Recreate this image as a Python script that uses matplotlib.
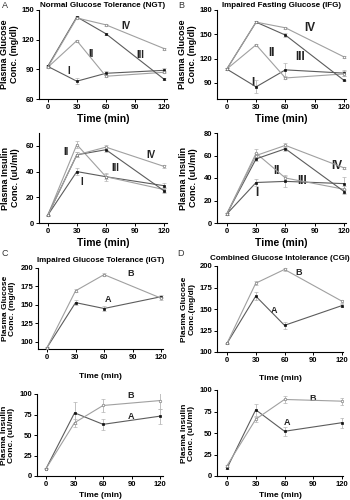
import matplotlib
matplotlib.use('Agg')
import matplotlib.pyplot as plt

plt.rcParams['font.family'] = ['Liberation Sans', 'DejaVu Sans']

# tiempos de muestreo (min)
t = [0, 30, 60, 120]

# Panel A - NGT glucosa
ngt_glu_I = [93, 78, 86, 89]
ngt_glu_I_err = [1, 3, 2, 2]
ngt_glu_II = [92, 119, 83, 87]
ngt_glu_II_err = [1, 1, 1, 1]
ngt_glu_III = [93, 143, 126, 80]
ngt_glu_III_err = [1, 1, 1, 1]
ngt_glu_IV = [92, 142, 135, 111]
ngt_glu_IV_err = [1, 1, 1, 1]

# Panel A - NGT insulina
ngt_ins_I = [6, 40, 36, 29]
ngt_ins_I_err = [0.5, 3, 2, 2]
ngt_ins_II = [6, 61, 36, 26]
ngt_ins_II_err = [0.5, 3, 3, 2]
ngt_ins_III = [6, 53, 57, 25]
ngt_ins_III_err = [0.5, 2, 2, 2]
ngt_ins_IV = [6, 53, 59, 44]
ngt_ins_IV_err = [0.5, 2, 2, 1]

# Panel B - IFG glucosa
ifg_glu_I = [107, 85, 106, 102]
ifg_glu_I_err = [1, 8, 8, 4]
ifg_glu_II = [107, 137, 96, 101]
ifg_glu_II_err = [1, 1, 1, 3]
ifg_glu_III = [107, 165, 149, 93]
ifg_glu_III_err = [1, 1, 2, 1]
ifg_glu_IV = [107, 165, 158, 122]
ifg_glu_IV_err = [1, 1, 1, 1]

# Panel B - IFG insulina
ifg_ins_I = [8, 36, 37, 35]
ifg_ins_I_err = [0.5, 3, 5, 6]
ifg_ins_II = [8, 62, 40, 30]
ifg_ins_II_err = [0.5, 4, 3, 3]
ifg_ins_III = [8, 57, 66, 28]
ifg_ins_III_err = [0.5, 2, 2, 2]
ifg_ins_IV = [8, 60, 69, 49]
ifg_ins_IV_err = [0.5, 2, 2, 1]

# Panel C - IGT
igt_glu_A = [92, 153, 145, 161]
igt_glu_A_err = [1, 3, 3, 2]
igt_glu_B = [92, 169, 191, 159]
igt_glu_B_err = [1, 2, 2, 2]
igt_ins_A = [9, 77, 63, 73]
igt_ins_A_err = [1, 13, 7, 9]
igt_ins_B = [9, 65, 86, 92]
igt_ins_B_err = [1, 5, 8, 10]

# Panel D - CGI
cgi_glu_A = [110, 165, 131, 154]
cgi_glu_A_err = [1, 5, 4, 2]
cgi_glu_B = [110, 180, 196, 159]
cgi_glu_B_err = [1, 2, 2, 2]
cgi_ins_A = [9, 77, 52, 62]
cgi_ins_A_err = [1, 7, 5, 6]
cgi_ins_B = [12, 66, 89, 87]
cgi_ins_B_err = [1, 3, 4, 4]

W, H = 350, 500
fig = plt.figure(figsize=(3.5, 5), dpi=100)

DARK = '#5c5c5c'
LIGHT = '#a0a0a0'


def px_axes(x0, y0, x1, y1):
    return fig.add_axes([x0 / W, 1 - y1 / H, (x1 - x0) / W, (y1 - y0) / H])


def serie(ax, y, err, filled):
    col = DARK if filled else LIGHT
    ax.errorbar(t, y, yerr=err, color=col, lw=0.8, ecolor='#b5b5b5', elinewidth=0.6,
                capsize=1.2, capthick=0.6, marker='s' if filled else 'o',
                ms=1.8, mfc='#111111' if filled else 'white', mec='#111111' if filled else '#808080',
                mew=0.5, zorder=3)


def estilo(ax, ylim, yticks, xlabel_pad, big=True):
    ax.set_xlim(-9, 123)
    ax.set_ylim(*ylim)
    ax.set_xticks([0, 30, 60, 90, 120])
    ax.set_yticks(yticks)
    for s in ['top', 'right']:
        ax.spines[s].set_visible(False)
    for s in ['left', 'bottom']:
        ax.spines[s].set_linewidth(0.8)
    ax.tick_params(labelsize=5.5, length=2, width=0.7, pad=1.5)
    for lab in ax.get_xticklabels() + ax.get_yticklabels():
        lab.set_fontweight('bold')
    ax.set_xlabel('Time (min)', fontsize=7.5 if big else 6, fontweight='bold', labelpad=xlabel_pad)


def etiqueta(ax, x, y, s, size=7):
    ax.text(x, y, s, fontsize=size, fontweight='bold', ha='center', va='center', color='#222222')


# ---- A glucosa
ax = px_axes(39, 10, 167, 99)
serie(ax, ngt_glu_I, ngt_glu_I_err, True)
serie(ax, ngt_glu_II, ngt_glu_II_err, False)
serie(ax, ngt_glu_III, ngt_glu_III_err, True)
serie(ax, ngt_glu_IV, ngt_glu_IV_err, False)
estilo(ax, (60, 150), [60, 90, 120, 150], 2)
ax.set_ylabel('Plasma Glucose\nConc. (mg/dl)', fontsize=6.5, fontweight='bold', labelpad=2, linespacing=1.1)
ax.set_title('Normal Glucose Tolerance (NGT)', fontsize=5.8, fontweight='bold', pad=2)
etiqueta(ax, 81, 134, 'IV', 7)
etiqueta(ax, 95, 104, 'III', 7)
etiqueta(ax, 45, 106, 'II', 7)
etiqueta(ax, 22, 88, 'I', 7)

# ---- B glucosa
ax = px_axes(217, 10, 346, 99)
serie(ax, ifg_glu_I, ifg_glu_I_err, True)
serie(ax, ifg_glu_II, ifg_glu_II_err, False)
serie(ax, ifg_glu_III, ifg_glu_III_err, True)
serie(ax, ifg_glu_IV, ifg_glu_IV_err, False)
estilo(ax, (70, 180), [90, 120, 150, 180], 2)
ax.set_xlim(-10, 122)
ax.set_ylabel('Plasma Glucose\nConc. (mg/dl)', fontsize=6.5, fontweight='bold', labelpad=2, linespacing=1.1)
ax.set_title('Impaired Fasting Glucose (IFG)', fontsize=5.8, fontweight='bold', pad=2)
etiqueta(ax, 85, 158, 'IV', 8.5)
etiqueta(ax, 75, 122, 'III', 8.5)
etiqueta(ax, 46, 127, 'II', 8.5)
etiqueta(ax, 27, 90, 'I', 8.5)

# ---- A insulina
ax = px_axes(39, 133, 167, 223)
serie(ax, ngt_ins_I, ngt_ins_I_err, True)
serie(ax, ngt_ins_II, ngt_ins_II_err, False)
serie(ax, ngt_ins_III, ngt_ins_III_err, True)
serie(ax, ngt_ins_IV, ngt_ins_IV_err, False)
estilo(ax, (0, 70), [0, 20, 40, 60], 2)
ax.set_ylabel('Plasma Insulin\nConc. (uU/ml)', fontsize=6.5, fontweight='bold', labelpad=4, linespacing=1.1)
etiqueta(ax, 19, 55, 'II', 7)
etiqueta(ax, 35, 32, 'I', 7)
etiqueta(ax, 70, 43, 'III', 7)
etiqueta(ax, 106, 53, 'IV', 7)

# ---- B insulina
ax = px_axes(217, 133, 346, 223)
serie(ax, ifg_ins_I, ifg_ins_I_err, True)
serie(ax, ifg_ins_II, ifg_ins_II_err, False)
serie(ax, ifg_ins_III, ifg_ins_III_err, True)
serie(ax, ifg_ins_IV, ifg_ins_IV_err, False)
estilo(ax, (0, 80), [0, 20, 40, 60, 80], 2)
ax.set_xlim(-10, 122)
ax.set_ylabel('Plasma Insulin\nConc. (uU/ml)', fontsize=6.5, fontweight='bold', labelpad=4, linespacing=1.1)
etiqueta(ax, 51, 46, 'II', 8.5)
etiqueta(ax, 77, 37, 'III', 8.5)
etiqueta(ax, 113, 51, 'IV', 8.5)
etiqueta(ax, 31, 27, 'I', 8.5)

# ---- C glucosa
ax = px_axes(38, 268, 163, 349)
serie(ax, igt_glu_A, igt_glu_A_err, True)
serie(ax, igt_glu_B, igt_glu_B_err, False)
estilo(ax, (90, 200), [100, 125, 150, 175, 200], 9, big=False)
ax.set_xlim(-9.5, 122)
ax.set_ylabel('Plasma Glucose\nConc. (mg/dl)', fontsize=6, fontweight='bold', labelpad=3, linespacing=1.1)
ax.set_title('Impaired Glucose Tolerance (IGT)', fontsize=5.8, fontweight='bold', pad=4)
etiqueta(ax, 88, 192, 'B', 6.5)
etiqueta(ax, 64, 157, 'A', 6.5)

# ---- D glucosa
ax = px_axes(217, 266, 343, 352)
serie(ax, cgi_glu_A, cgi_glu_A_err, True)
serie(ax, cgi_glu_B, cgi_glu_B_err, False)
estilo(ax, (100, 200), [100, 125, 150, 175, 200], 8, big=False)
ax.set_xlim(-10.4, 121)
ax.set_ylabel('Plasma Glucose\nConc.(mg/dl)', fontsize=6, fontweight='bold', labelpad=3, linespacing=1.1)
ax.set_title('Combined Glucose Intolerance (CGI)', fontsize=5.8, fontweight='bold', pad=4)
etiqueta(ax, 75, 193, 'B', 6.5)
etiqueta(ax, 49, 148, 'A', 6.5)

# ---- C insulina
ax = px_axes(37, 394, 163, 476)
serie(ax, igt_ins_A, igt_ins_A_err, True)
serie(ax, igt_ins_B, igt_ins_B_err, False)
estilo(ax, (0, 100), [0, 25, 50, 75, 100], 3, big=False)
ax.set_xlim(-9.5, 123)
ax.set_ylabel('Plasma Insulin\nConc. (uU/ml)', fontsize=6, fontweight='bold', labelpad=3, linespacing=1.1)
etiqueta(ax, 89, 98, 'B', 6.5)
etiqueta(ax, 89, 72, 'A', 6.5)

# ---- D insulina
ax = px_axes(217, 390, 343, 476)
serie(ax, cgi_ins_A, cgi_ins_A_err, True)
serie(ax, cgi_ins_B, cgi_ins_B_err, False)
estilo(ax, (0, 100), [0, 25, 50, 75, 100], 3, big=False)
ax.set_xlim(-10.4, 121)
ax.set_ylabel('Plasma Insulin\nConc. (uU/ml)', fontsize=6, fontweight='bold', labelpad=3, linespacing=1.1)
etiqueta(ax, 89, 90, 'B', 6.5)
etiqueta(ax, 63, 62, 'A', 6.5)

# letras de panel
for lx, ly, s in [(2, 5, 'A'), (178, 5, 'B'), (2, 253, 'C'), (177, 253, 'D')]:
    fig.text(lx / W, 1 - ly / H, s, fontsize=6.5, va='center', ha='left', color='#333333')

fig.savefig('out.png', dpi=100)
